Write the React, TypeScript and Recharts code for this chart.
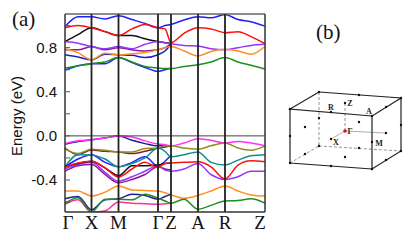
import {
  LineChart,
  Line,
  XAxis,
  YAxis,
  ReferenceLine,
  ScatterChart,
  Scatter,
  LabelList,
} from 'recharts';

// k-path nodes (distance along the path) for panel (a)
const kPath = [0, 13, 26.5, 40, 53.5, 67, 80, 93, 100, 106, 119, 133, 146, 160, 173, 186, 200];
const symmetryTicks = [0, 26.5, 53.5, 93, 106, 133, 160, 200];
const symmetryLabels = ['Γ', 'X', 'M', 'Γ', 'Z', 'A', 'R', 'Z'];
const energyTicks = [-0.6, -0.4, -0.2, 0, 0.2, 0.4, 0.6, 0.8, 1.0];
const labelledTicks = [-0.4, 0, 0.4, 0.8];

// conduction bands
const blueTop = [0.99, 1.08, 1.08, 1.06, 1.09, 1.055, 1.02, 0.98, 1.0, 1.01, 1.05, 1.08, 1.07, 1.1, 1.055, 1.035, 0.995];
const redUpper = [0.98, 1.0, 0.98, 0.945, 0.91, 0.97, 1.01, 0.98, 0.97, 0.845, 0.93, 0.98, 0.97, 0.936, 0.945, 0.9, 0.835];
const blackUpper = [0.855, 0.918, 0.98, 0.945, 0.91, 0.91, 0.88, 0.855, 0.845, 0.84];
const violetUpper = [0.855, 0.84, 0.81, 0.79, 0.81, 0.79, 0.83, 0.855, 0.845, 0.835, 0.82, 0.815, 0.79, 0.78, 0.8, 0.82, 0.83];
const purpleUpper = [0.78, 0.78, 0.81, 0.78, 0.8, 0.78, 0.77, 0.78, 0.8, 0.835];
const orangeUpper = [0.79, 0.755, 0.69, 0.75, 0.735, 0.745, 0.755, 0.78, 0.8, 0.81, 0.77, 0.725, 0.765, 0.785, 0.77, 0.74, 0.81];
const blueUpper = [0.735, 0.715, 0.69, 0.74, 0.735, 0.73, 0.71, 0.736, 0.77, 0.83];
const blueLowerC = [0.595, 0.635, 0.655, 0.655, 0.71, 0.665, 0.62, 0.585, 0.6, 0.61];
const greenUpper = [0.615, 0.635, 0.655, 0.67, 0.71, 0.67, 0.63, 0.615, 0.61, 0.61, 0.63, 0.645, 0.67, 0.71, 0.67, 0.64, 0.605];

// valence bands
const navyTop = [-0.075, -0.05, -0.036, -0.02, 0, -0.04, -0.07, -0.09, -0.09, -0.09];
const magentaTop = [-0.07, -0.045, -0.036, -0.02, 0, -0.01, -0.045, -0.073, -0.08, -0.09, -0.065, -0.025, -0.04, -0.065, -0.05, -0.065, -0.09];
const brownTop = [-0.11, -0.17, -0.127, -0.14, -0.145, -0.16, -0.14, -0.11, -0.1, -0.09];
const oliveTop = [-0.12, -0.16, -0.12, -0.13, -0.145, -0.145, -0.115, -0.11, -0.09, -0.09, -0.11, -0.12, -0.09, -0.064, -0.11, -0.13, -0.09];
const blueMid = [-0.28, -0.21, -0.17, -0.24, -0.28, -0.24, -0.19, -0.275, -0.23, -0.175];
const tealMid = [-0.28, -0.17, -0.173, -0.21, -0.28, -0.25, -0.2, -0.11, -0.14, -0.19, -0.17, -0.145, -0.24, -0.264, -0.22, -0.18, -0.17];
const purpleMid = [-0.32, -0.27, -0.26, -0.35, -0.425, -0.395, -0.35, -0.28, -0.3, -0.31];
const violetMid = [-0.3, -0.26, -0.24, -0.33, -0.41, -0.37, -0.32, -0.27, -0.31, -0.32, -0.3, -0.25, -0.35, -0.395, -0.37, -0.32, -0.32];
const blackMid = [-0.28, -0.25, -0.23, -0.29, -0.36, -0.27, -0.27, -0.265, -0.25, -0.245];
const redMid = [-0.285, -0.245, -0.23, -0.29, -0.373, -0.3, -0.24, -0.285, -0.25, -0.245, -0.24, -0.235, -0.28, -0.39, -0.264, -0.225, -0.235];
const orangeLow = [-0.5, -0.5, -0.545, -0.51, -0.455, -0.49, -0.495, -0.5, -0.515, -0.535, -0.565, -0.54, -0.5, -0.455, -0.5, -0.535, -0.545];
const navyLow = [-0.57, -0.55, -0.67, -0.58, -0.57, -0.53, -0.54, -0.575, -0.55, -0.53];
const pinkLow = [-0.62, -0.58, -0.69, -0.68, -0.6, -0.61, -0.615, -0.62, -0.615, -0.61];
const greenLow = [-0.61, -0.56, -0.69, -0.575, -0.575, -0.58, -0.53, -0.565, -0.59, -0.61, -0.575, -0.665, -0.63, -0.59, -0.585, -0.57, -0.61];

const bands: [string, number[], string][] = [
  ['blueTop', blueTop, '#1f1fff'],
  ['blackUpper', blackUpper, '#111111'],
  ['redUpper', redUpper, '#ff1010'],
  ['purpleUpper', purpleUpper, '#8a1a9a'],
  ['violetUpper', violetUpper, '#9933ff'],
  ['blueUpper', blueUpper, '#1f1fd0'],
  ['orangeUpper', orangeUpper, '#ff9020'],
  ['blueLowerC', blueLowerC, '#1f1fff'],
  ['greenUpper', greenUpper, '#1f8f1f'],
  ['navyTop', navyTop, '#1f1f90'],
  ['magentaTop', magentaTop, '#ff30ff'],
  ['brownTop', brownTop, '#8b1a3a'],
  ['oliveTop', oliveTop, '#8f8f20'],
  ['blueMid', blueMid, '#1f1fff'],
  ['tealMid', tealMid, '#108f8f'],
  ['purpleMid', purpleMid, '#8a1a9a'],
  ['violetMid', violetMid, '#9933ff'],
  ['blackMid', blackMid, '#111111'],
  ['redMid', redMid, '#ff1010'],
  ['orangeLow', orangeLow, '#ff9020'],
  ['navyLow', navyLow, '#1f1f90'],
  ['pinkLow', pinkLow, '#ff3090'],
  ['greenLow', greenLow, '#1f8f1f'],
];

const chartData = kPath.map((k, i) => {
  const row: Record<string, number> = { k };
  bands.forEach(([name, values]) => {
    if (values[i] !== undefined) row[name] = values[i];
  });
  return row;
});

// panel (b): Brillouin zone sketch, in the sketch's own units
const solidEdges = [
  [{ x: 39, y: 72 }, { x: 121, y: 78 }, { x: 121, y: 131 }, { x: 92, y: 149 }, { x: 92, y: 96 }, { x: 121, y: 78 }],
  [{ x: 39, y: 72 }, { x: 10, y: 89 }, { x: 92, y: 96 }],
  [{ x: 10, y: 89 }, { x: 10, y: 143 }, { x: 92, y: 149 }],
];
const dashedEdges = [
  [{ x: 39, y: 72 }, { x: 39, y: 126 }, { x: 10, y: 143 }],
  [{ x: 39, y: 126 }, { x: 121, y: 131 }],
  [{ x: 65, y: 83 }, { x: 65, y: 111 }],
];
const innerLines = [
  [{ x: 51, y: 119 }, { x: 65, y: 111 }, { x: 106, y: 113 }],
];
const zonePoints = [
  { x: 39, y: 72 }, { x: 121, y: 78 }, { x: 121, y: 131 }, { x: 92, y: 149 }, { x: 92, y: 96 },
  { x: 10, y: 89 }, { x: 10, y: 143 }, { x: 39, y: 126 }, { x: 51, y: 92 }, { x: 65, y: 83 },
  { x: 79, y: 75 }, { x: 106, y: 87 }, { x: 121, y: 105 }, { x: 106, y: 140 }, { x: 92, y: 122 },
  { x: 51, y: 146 }, { x: 79, y: 128 }, { x: 65, y: 137 }, { x: 25, y: 134 }, { x: 25, y: 107 },
  { x: 10, y: 116 }, { x: 39, y: 98 }, { x: 79, y: 102 }, { x: 106, y: 113 }, { x: 51, y: 119 },
];
const gammaPoint = [{ x: 65, y: 111 }];
const zoneLabels = [
  { x: 51, y: 87, name: 'R' },
  { x: 70, y: 83, name: 'Z' },
  { x: 89, y: 91, name: 'A' },
  { x: 70, y: 111, name: 'Γ' },
  { x: 56, y: 122, name: 'X' },
  { x: 99, y: 123, name: 'M' },
];

const SymmetryTick = ({ x, y, index }: any) => (
  <text
    x={index === 0 ? x + 3 : index === 7 ? x - 5 : x}
    y={y + 9}
    textAnchor="middle"
    fontFamily="Liberation Serif"
    fontSize={19}
    fill="#111"
  >
    {symmetryLabels[index]}
  </text>
);

// recharts hands the tick position 8px out from the axis line
const EnergyTick = ({ x, y, payload }: any) => (
  <g>
    <line x1={x + 8} x2={x + 13} y1={y} y2={y} stroke="#555" strokeWidth={1} />
    {labelledTicks.includes(payload.value) && (
      <text x={x} y={y + 5} textAnchor="end" fontFamily="Liberation Sans" fontSize={15} fill="#111">
        {payload.value.toFixed(1)}
      </text>
    )}
  </g>
);

const RightTick = ({ x, y }: any) => (
  <line x1={x - 8} x2={x - 11} y1={y} y2={y} stroke="#777" strokeWidth={1} />
);

const ZoneDot = ({ cx, cy }: any) => <circle cx={cx} cy={cy} r={1.2} fill="#111" />;
const GammaDot = ({ cx, cy }: any) => <circle cx={cx} cy={cy} r={1.8} fill="#e01010" />;
const NoDot = () => null;

const App = () => {
  return (
    <div style={{ position: 'absolute', left: 0, top: 0, width: 409, height: 241, background: '#fff' }}>
      <LineChart
        width={409}
        height={241}
        data={chartData}
        margin={{ top: 14, right: 0, left: 0, bottom: 0 }}
      >
        <XAxis
          dataKey="k"
          type="number"
          domain={[0, 200]}
          ticks={symmetryTicks}
          interval={0}
          height={29}
          tick={<SymmetryTick />}
          tickLine={false}
          axisLine={{ stroke: '#333', strokeWidth: 1.5 }}
        />
        <YAxis
          domain={[-0.69, 1.105]}
          ticks={energyTicks}
          interval={0}
          width={65}
          allowDataOverflow
          tick={<EnergyTick />}
          tickLine={false}
          axisLine={{ stroke: '#333', strokeWidth: 1.5 }}
        />
        <YAxis
          yAxisId="right"
          orientation="right"
          domain={[-0.69, 1.105]}
          ticks={energyTicks}
          interval={0}
          width={144}
          tick={<RightTick />}
          tickLine={false}
          axisLine={{ stroke: '#333', strokeWidth: 1.5 }}
        />
        {bands.map(([name, , color]) => (
          <Line
            key={name}
            dataKey={name}
            type="monotone"
            stroke={color}
            strokeWidth={1.5}
            dot={false}
            isAnimationActive={false}
          />
        ))}
        <ReferenceLine y={1.105} stroke="#666" strokeWidth={1.5} />
        <ReferenceLine y={0} stroke="#444" strokeWidth={1} />
        {symmetryTicks.slice(1, 7).map((k) => (
          <ReferenceLine key={k} x={k} stroke="#222" strokeWidth={1.8} />
        ))}
      </LineChart>

      <ScatterChart
        width={129}
        height={170}
        margin={{ top: 0, right: 0, bottom: 0, left: 0 }}
        style={{ position: 'absolute', left: 280, top: 20 }}
      >
        <XAxis type="number" dataKey="x" domain={[0, 129]} hide />
        <YAxis type="number" dataKey="y" domain={[0, 170]} reversed hide />
        {innerLines.map((pts, i) => (
          <Scatter key={i} data={pts} shape={<NoDot />} line={{ stroke: '#999', strokeWidth: 0.8 }} isAnimationActive={false} />
        ))}
        {dashedEdges.map((pts, i) => (
          <Scatter key={i} data={pts} shape={<NoDot />} line={{ stroke: '#777', strokeWidth: 0.8, strokeDasharray: '3 2' }} isAnimationActive={false} />
        ))}
        {solidEdges.map((pts, i) => (
          <Scatter key={i} data={pts} shape={<NoDot />} line={{ stroke: '#222', strokeWidth: 1.2 }} isAnimationActive={false} />
        ))}
        <Scatter data={zonePoints} shape={<ZoneDot />} isAnimationActive={false} />
        <Scatter data={gammaPoint} shape={<GammaDot />} isAnimationActive={false} />
        <Scatter data={zoneLabels} shape={<NoDot />} isAnimationActive={false}>
          <LabelList
            dataKey="name"
            position="center"
            style={{ fontFamily: 'Liberation Serif', fontSize: 8, fontWeight: 700, fill: '#222' }}
          />
        </Scatter>
      </ScatterChart>

      <div style={{ position: 'absolute', left: 12, top: 9, fontFamily: 'Liberation Serif', fontSize: 21, lineHeight: '21px', color: '#111' }}>
        (a)
      </div>
      <div style={{ position: 'absolute', left: 316, top: 22, fontFamily: 'Liberation Serif', fontSize: 21, lineHeight: '21px', color: '#111' }}>
        (b)
      </div>
      <div
        style={{
          position: 'absolute',
          left: 16,
          top: 116,
          transform: 'translate(-50%, -50%) rotate(-90deg)',
          fontFamily: 'Liberation Sans',
          fontSize: 15,
          whiteSpace: 'nowrap',
          color: '#111',
        }}
      >
        Energy (eV)
      </div>
    </div>
  );
};

export default App;
